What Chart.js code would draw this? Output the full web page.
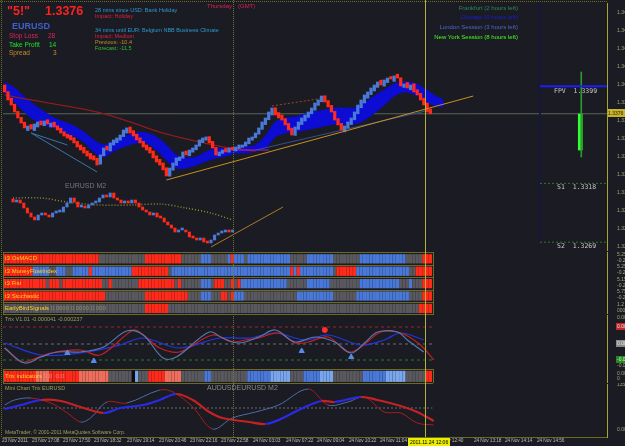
<!DOCTYPE html>
<html>
<head>
<meta charset="utf-8">
<title>EURUSD M2</title>
<script src="https://cdn.jsdelivr.net/npm/chart.js@4.4.1/dist/chart.umd.min.js"></script>
<style>
  html, body { margin: 0; padding: 0; background: #1b1b23; }
  #wrap { position: relative; width: 625px; height: 446px; overflow: hidden; background: #1b1b23; font-family: "Liberation Sans", sans-serif; }
  #wrap canvas { position: absolute; }
  .t { position: absolute; white-space: nowrap; line-height: 1; font-size: 5.5px; }
  .hl { position: absolute; height: 0; border-top: 1px solid #6b6b1f; }
  .vl { position: absolute; width: 0; border-left: 1px solid #6b6b1f; }
  .xl { position: absolute; top: 439px; white-space: nowrap; line-height: 1; font-size: 4.8px; letter-spacing: -0.1px; color: #b8b8b8; }
</style>
</head>
<body>
<div id="wrap">
  <canvas id="mainChart" width="625" height="251" style="left:0;top:0"></canvas>
  <canvas id="insetChart" width="290" height="62" style="left:8px;top:188px"></canvas>
  <canvas id="stripChart" width="625" height="62" style="left:0;top:252px"></canvas>
  <canvas id="trixChart" width="625" height="54" style="left:0;top:315px"></canvas>
  <canvas id="trixBarChart" width="625" height="14" style="left:0;top:369px"></canvas>
  <canvas id="miniChart" width="625" height="63" style="left:0;top:383px"></canvas>

  <!-- ramki -->
  <div class="hl" style="left:0;top:1px;width:607px;border-top:1px dotted #6e6e22"></div>
  <div class="vl" style="left:1px;top:0;height:437px;border-left:1px dotted #6e6e22"></div>
  <div class="vl" style="left:233px;top:0;height:437px;border-left:1px dotted #74742a"></div>
  <div class="hl" style="left:3px;top:252px;width:430px"></div>
  <div class="hl" style="left:3px;top:265px;width:430px"></div>
  <div class="hl" style="left:3px;top:277px;width:430px"></div>
  <div class="hl" style="left:3px;top:290px;width:430px"></div>
  <div class="hl" style="left:3px;top:302px;width:430px"></div>
  <div class="hl" style="left:3px;top:314px;width:430px"></div>
  <div class="vl" style="left:3px;top:252px;height:63px"></div>
  <div class="vl" style="left:433px;top:252px;height:63px"></div>
  <div class="hl" style="left:3px;top:369px;width:430px"></div>
  <div class="hl" style="left:3px;top:383px;width:430px"></div>
  <div class="vl" style="left:3px;top:369px;height:14px"></div>
  <div class="vl" style="left:433px;top:369px;height:14px"></div>
  <div class="vl" style="left:425px;top:0;height:437px;border-left:1px solid #b4b434"></div>

  <!-- info -->
  <div class="t" style="left:7px;top:5px;font-size:12.5px;font-weight:bold;color:#ff2020">"5!"</div>
  <div class="t" style="left:45px;top:5px;font-size:12.5px;font-weight:bold;color:#ff2020">1.3376</div>
  <div class="t" style="left:12px;top:22px;font-size:9px;font-weight:bold;color:#3f5fd0">EURUSD</div>
  <div class="t" style="left:9px;top:33px;font-size:6.5px;color:#e0245a">Stop Loss</div>
  <div class="t" style="left:48px;top:33px;font-size:6.5px;color:#e0245a">28</div>
  <div class="t" style="left:9px;top:42px;font-size:6.5px;color:#22e022">Take Profit</div>
  <div class="t" style="left:49px;top:42px;font-size:6.5px;color:#22e022">14</div>
  <div class="t" style="left:9px;top:50px;font-size:6.5px;color:#cc8a22">Spread</div>
  <div class="t" style="left:53px;top:50px;font-size:6.5px;color:#cc8a22">3</div>

  <div class="t" style="left:95px;top:8px;color:#2a9ad0">28 mins since USD: Bank Holiday</div>
  <div class="t" style="left:95px;top:14px;color:#e02040">Impact: Holiday</div>
  <div class="t" style="left:95px;top:28px;color:#2a9ad0">34 mins until EUR: Belgium NBB Business Climate</div>
  <div class="t" style="left:95px;top:34px;color:#e02040">Impact: Medium</div>
  <div class="t" style="left:95px;top:40px;color:#c89020">Previous: -10.4</div>
  <div class="t" style="left:95px;top:46px;color:#30c030">Forecast: -11.5</div>
  <div class="t" style="left:207px;top:3px;font-size:6px;color:#e0204a">Thursday</div>
  <div class="t" style="left:238px;top:3px;font-size:6px;color:#e0204a">(GMT)</div>

  <div class="t" style="right:107px;top:5px;font-size:6px;color:#2e8b57">Frankfurt (2 hours left)</div>
  <div class="t" style="right:107px;top:14px;font-size:6px;color:#1c1ce6">Chicago (0 hours left)</div>
  <div class="t" style="right:107px;top:24px;font-size:6px;color:#4a6ad0">London Session (3 hours left)</div>
  <div class="t" style="right:107px;top:34px;font-size:6px;color:#44ff22">New York Session (8 hours left)</div>

  <div class="t" style="left:65px;top:182px;font-size:7px;color:#777">EURUSD M2</div>

  <div class="t" style="left:554px;top:88px;font-family:'DejaVu Sans Mono',monospace;font-size:6.5px;color:#c8c8c8">FPV&nbsp; 1.3399</div>
  <div class="t" style="left:557px;top:184px;font-family:'DejaVu Sans Mono',monospace;font-size:6.5px;color:#c8c8c8">S1&nbsp; 1.3318</div>
  <div class="t" style="left:557px;top:243px;font-family:'DejaVu Sans Mono',monospace;font-size:6.5px;color:#c8c8c8">S2&nbsp; 1.3269</div>
  <div class="t" style="left:608px;top:109px;width:17px;height:8px;background:#c8b428;color:#222;font-size:5px;line-height:8px">1.3376</div>

  <div class="t" style="left:5px;top:255px;font-size:6px;color:#ffd21a">t3 OsMACD</div>
  <div class="t" style="left:5px;top:268px;font-size:6px;color:#ffd21a">t3 MoneyFlowIndex</div>
  <div class="t" style="left:5px;top:280px;font-size:6px;color:#ffd21a">t3 Fisi</div>
  <div class="t" style="left:5px;top:293px;font-size:6px;color:#ffd21a">t3 Stochastic</div>
  <div class="t" style="left:5px;top:305px;font-size:6px;color:#ffd21a">EarlyBirdSignals <span style="color:#8a8a6a">0.0000 0.0000 0.000</span></div>

  <div class="t" style="left:5px;top:317px;color:#a0a050">Trix V1.01 -0.000041 -0.000237</div>
  <div class="t" style="left:5px;top:373px;font-size:6px;color:#ffd21a">Trix indicators <span style="color:#f08a7a">0.0 &nbsp;0.0</span></div>
  <div class="t" style="left:5px;top:386px;color:#a0a050">Mini Chart Trix EURUSD</div>
  <div class="t" style="left:207px;top:384px;font-size:7px;color:#8a8a8a">AUDUSDEURUSD M2</div>
  <div class="t" style="left:5px;top:430px;font-size:5px;color:#a0a060">MetaTrader, © 2001-2011 MetaQuotes Software Corp.</div>
  <div id="xLabels"></div>
  <div class="t" style="left:408px;top:438px;height:8px;line-height:8px;padding:0 2px;background:#eded00;color:#000;font-size:5px">2011.11.24 12:06</div>
</div>

<script>
'use strict';

// --- DANE: świece głównego wykresu ---
const opens = [
  1.34000, 1.33945, 1.3389, 1.3384, 1.3378, 1.3373, 1.3369, 1.3362, 1.3367, 1.3362,
  1.3365, 1.3370, 1.3366, 1.3371, 1.3365, 1.3369, 1.3366, 1.3364, 1.3361, 1.3359,
  1.3358, 1.3356, 1.3353, 1.3350, 1.3348, 1.3345, 1.3343, 1.3341, 1.3339, 1.3334,
  1.3341, 1.3349, 1.3345, 1.3350, 1.3352, 1.3354, 1.3357, 1.3360, 1.3365, 1.3362,
  1.3359, 1.3356, 1.3353, 1.3350, 1.3348, 1.3345, 1.3341, 1.3338, 1.3335, 1.3331,
  1.3324, 1.3329, 1.3333, 1.3337, 1.3339, 1.3345, 1.3341, 1.3344, 1.3346, 1.3349,
  1.3352, 1.3354, 1.3357, 1.3353, 1.3348, 1.3341, 1.3343, 1.3347, 1.3344, 1.3348,
  1.3345, 1.3347, 1.3348, 1.3349, 1.3351, 1.3354, 1.3356, 1.3359, 1.3363, 1.3367,
  1.3371, 1.3375, 1.3381, 1.3377, 1.3375, 1.3372, 1.3368, 1.3364, 1.3358, 1.3363,
  1.3367, 1.3370, 1.3373, 1.3376, 1.3379, 1.3383, 1.3386, 1.3391, 1.3387, 1.3383,
  1.3378, 1.3372, 1.3368, 1.3361, 1.3364, 1.3367, 1.3371, 1.3376, 1.3381, 1.3385,
  1.3389, 1.3392, 1.3395, 1.3398, 1.3404, 1.3399, 1.3402, 1.3407, 1.3403, 1.3409,
  1.3406, 1.3398, 1.3402, 1.3396, 1.3401, 1.3396, 1.3393, 1.3389, 1.3385, 1.3380
];
const closes = [
  1.33942, 1.33875, 1.33833, 1.33775, 1.33725, 1.33683, 1.33642, 1.33658, 1.33633, 1.33675,
  1.33692, 1.33667, 1.33700, 1.33675, 1.33683, 1.33650, 1.33625, 1.33600, 1.33575, 1.33558,
  1.33542, 1.33517, 1.33483, 1.33458, 1.33433, 1.33408, 1.33383, 1.33375, 1.33333, 1.33417,
  1.33475, 1.33458, 1.33517, 1.33542, 1.33558, 1.33583, 1.33625, 1.33642, 1.33600, 1.33575,
  1.33542, 1.33517, 1.33483, 1.33458, 1.33433, 1.33392, 1.33358, 1.33333, 1.33292, 1.33242,
  1.33308, 1.33350, 1.33392, 1.33400, 1.33442, 1.33417, 1.33458, 1.33475, 1.33500, 1.33542,
  1.33558, 1.33567, 1.33517, 1.33475, 1.33417, 1.33442, 1.33458, 1.33442, 1.33475, 1.33458,
  1.33483, 1.33500, 1.33500, 1.33525, 1.33558, 1.33567, 1.33600, 1.33642, 1.33692, 1.33725,
  1.33775, 1.33808, 1.33750, 1.33725, 1.33708, 1.33667, 1.33625, 1.33583, 1.33650, 1.33692,
  1.33725, 1.33750, 1.33775, 1.33808, 1.33850, 1.33875, 1.33908, 1.33858, 1.33817, 1.33775,
  1.33708, 1.33667, 1.33625, 1.33658, 1.33692, 1.33725, 1.33775, 1.33833, 1.33875, 1.33917,
  1.33942, 1.33975, 1.34000, 1.34025, 1.34000, 1.34042, 1.34058, 1.34050, 1.34075, 1.34058,
  1.33992, 1.34008, 1.33975, 1.34000, 1.33942, 1.33917, 1.33875, 1.33833, 1.33775, 1.33760
];

// wstęga MA (niebieska)
const ribbonIdx = [0, 3, 6, 9, 12, 15, 18, 21, 24, 27, 30, 33, 36, 40, 43, 46, 49, 52, 55, 58, 61, 64, 67,
  70, 73, 76, 79, 82, 85, 88, 91, 94, 97, 100, 103, 106, 109, 112, 115, 118, 121, 124, 127, 130, 133];
const ribbonHi = [1.34025, 1.33975, 1.33900, 1.33833, 1.33775, 1.33725, 1.33692, 1.33658, 1.33608, 1.33542,
  1.33500, 1.33533, 1.33567, 1.33600, 1.33600, 1.33567, 1.33500, 1.33417, 1.33392, 1.33400, 1.33442, 1.33475,
  1.33467, 1.33483, 1.33483, 1.33500, 1.33575, 1.33692, 1.33725, 1.33733, 1.33758, 1.33775, 1.33792, 1.33808,
  1.33808, 1.33808, 1.33850, 1.33908, 1.33958, 1.34008, 1.34025, 1.34017, 1.33975, 1.33917, 1.33875];
const ribbonLo = [1.33933, 1.33858, 1.33775, 1.33708, 1.33667, 1.33642, 1.33608, 1.33575, 1.33525, 1.33442,
  1.33400, 1.33450, 1.33483, 1.33517, 1.33517, 1.33458, 1.33375, 1.33308, 1.33308, 1.33333, 1.33367, 1.33392,
  1.33408, 1.33433, 1.33433, 1.33450, 1.33475, 1.33567, 1.33600, 1.33608, 1.33625, 1.33642, 1.33658, 1.33675,
  1.33675, 1.33675, 1.33708, 1.33767, 1.33833, 1.33908, 1.33942, 1.33925, 1.33875, 1.33833, 1.33817];

// wolna MA (ciemnoczerwona)
const slowMaIdx = [0, 8, 17, 29, 38, 47, 59, 68, 76];
const slowMa = [1.33917, 1.33875, 1.33833, 1.33767, 1.33692, 1.33608, 1.33525, 1.33475, 1.33450];

// linie trendu
const orangeIdx = [49, 142];
const orangePx = [1.33208, 1.33908];
const steelIdx = [76, 129];
const steelPx = [1.33458, 1.33792];
const channelIdx = [81, 97];
const channelPx = [1.33825, 1.33892];
const fanAIdx = [8, 28];
const fanAPx = [1.33600, 1.33275];
const fanBIdx = [8, 19];
const fanBPx = [1.33600, 1.33500];
const purpleIdx = [69, 80];
const purplePx = [1.33458, 1.33458];

const lastPrice = 1.3376;
const pivotVals = [1.3399, 1.3318, 1.3269];   // FPV, S1, S2
const pivotFrom = 162.2;
const dayIdx = 174.4;
const dayBody = [1.33458, 1.33758];
const dayRange = [1.33400, 1.34108];
const priceTicks = [1.3460, 1.3445, 1.3430, 1.3415, 1.3400, 1.3385, 1.3370, 1.3355, 1.3340,
  1.3325, 1.3310, 1.3295, 1.3280, 1.3265];

// --- mini wykres EURUSD M2 ---
const insetFirstOpen = 1.33960;
const insetCloses = [
  1.33930, 1.33950, 1.33920, 1.33870, 1.33820, 1.33780, 1.33750, 1.33800, 1.33820, 1.33800,
  1.33780, 1.33820, 1.33830, 1.33830, 1.33880, 1.33920, 1.33970, 1.33930, 1.33880, 1.33880,
  1.33870, 1.33900, 1.33920, 1.33930, 1.33970, 1.34000, 1.33980, 1.34020, 1.33970, 1.33950,
  1.33920, 1.33930, 1.33920, 1.33950, 1.33920, 1.33880, 1.33850, 1.33830, 1.33800, 1.33820,
  1.33780, 1.33770, 1.33730, 1.33700, 1.33670, 1.33630, 1.33650, 1.33650, 1.33630, 1.33580,
  1.33570, 1.33550, 1.33570, 1.33530, 1.33520, 1.33550, 1.33600, 1.33620, 1.33630, 1.33650,
  1.33630, 1.33630
];
const insetMaIdx = [0, 8, 15, 24, 33, 41, 48, 55, 61];
const insetMa = [1.33970, 1.33970, 1.33930, 1.33900, 1.33900, 1.33910, 1.33870, 1.33820, 1.33750];
const insetTrendIdx = [55, 75];
const insetTrendPx = [1.33480, 1.33880];

// --- paski sygnałów (R czerwony, B niebieski, G szary, S łososiowy, L jasnoniebieski, K czarny) ---
const stripRows = [
  'R29 G14 R11 G6 B3 G5 B1 R1 B3 G1 B13 G5 B8 G8 B14 G5 R3',
  'R9 B5 G2 B3 G2 B5 R1 B12 R11 G1 B36 R1 B1 R1 B10 G1 R6 B16 G2 R5',
  'R13 G1 R3 G1 R12 G2 R1 G8 R11 G1 R1 G6 B3 G1 R3 G2 R1 G1 R1 B14 G6 B7 G9 B12 G3 B1 G3 R3',
  'R31 G12 R13 G4 B3 G3 R2 G1 R1 B3 G16 B11 G7 B16 G4 R3',
  'G43 R7 G76 R4'
];
const stripScale = [['5.25', '-0.25'], ['5.25', '-0.25'], ['5.15', '-0.25'], ['5.75', '-0.25'], ['1.2', '0000']];
const trixRow = 'R10 S4 R9 S9 G7 K1 L1 G3 R5 S5 G7 B2 G11 B7 L6 G4 B5 L4 G9 B7 L6 G6 R2';

// --- Trix ---
const trixFastIdx = [0, 6, 11, 16, 23, 30, 37, 42, 48, 52, 62, 66, 71, 77, 82, 88, 94, 100, 105, 109, 113, 119, 122, 127];
const trixFast = [-0.00004, -0.00019, -0.00013, -0.00008, -0.00008, -0.00003, 0.00013, 0.00009, -0.00014, -0.00013,
  0.00012, 0.00006, 0.00001, 0.00007, 0.00014, 0.00002, 0.00007, 0.00002, -0.00009, 0.00001, 0.00012, 0.00012, 0.00004, -0.00008];
const trixRedIdx = [0, 5, 8, 14, 23, 29, 39, 42, 47, 53, 63, 69, 73, 77, 83, 88, 92, 98, 104, 108, 114, 120, 126, 130];
const trixRed = [-0.00004, -0.00018, -0.00016, -0.00009, -0.00006, -0.00011, 0.00014, 0.00009, -0.00004, -0.00008,
  0.00009, 0.00002, 0.00004, 0.00006, 0.00011, 0.00001, 0.00002, 0.00007, -0.00008, -0.00003, 0.00012, 0.00011, -0.00001, -0.00016];
const trixSlowIdx = [0, 11, 23, 35, 42, 53, 65, 74, 82, 91, 98, 108, 115, 120, 127];
const trixSlow = [0.00001, -0.00011, -0.00009, -0.00001, 0.00006, -0.00004, 0.00006, 0.00006, 0.00011, 0.00004,
  0.00009, -0.00001, 0.00004, 0.00011, 0.00004];
const trixLevels = [0.00017, 0, -0.00016];
const arrowIdx = [19, 27, 90, 105];
const arrowVal = [-0.00009, -0.00017, -0.00007, -0.00013];
const dotIdx = [97];
const dotVal = [0.00014];
const trixTicks = [0.00026, 0.00017, 0, -0.00016, -0.00022];

// --- Mini Chart Trix ---
const miniThickIdx = [0, 5, 11, 17, 23, 30, 35, 42, 47, 52, 57, 62, 66, 74, 79, 83, 91, 96, 100, 108, 113, 120, 125, 130];
const miniThick = [63, 75, 90, 87, 69, 51, 66, 75, 90, 108, 90, 54, 36, 24, 18, 30, 69, 87, 84, 99, 90, 72, 54, 27];
const miniThinIdx = [0, 3, 8, 14, 19, 23, 26, 31, 37, 47, 51, 57, 63, 69, 76, 83, 92, 98, 104, 109, 115, 120, 125, 130];
const miniThin = [75, 90, 96, 81, 51, 24, 36, 84, 81, 120, 114, 69, 3, 36, 54, 75, 123, 75, 84, 99, 54, 51, 21, 15];
const miniLevel = 66;

// --- oś czasu ---
const xTickIdx = [-0.5, 8.5, 18, 27.5, 37.5, 47, 56.5, 66, 75.5, 85.5, 95, 104.5, 114, 131, 142.5, 152, 161.5];
const xTickLabels = ['23 Nov 2011', '23 Nov 17:08', '23 Nov 17:50', '23 Nov 18:32', '23 Nov 19:14', '23 Nov 20:46',
  '23 Nov 22:16', '23 Nov 22:58', '24 Nov 03:03', '24 Nov 07:22', '24 Nov 09:04', '24 Nov 10:22', '24 Nov 11:04',
  '24 Nov 12:40', '24 Nov 13:18', '24 Nov 14:14', '24 Nov 14:56'];

// --- STYL ---
const AXIS = '#a9a72a';
const TICK_TXT = '#a6a67a';
const UP = '#4a7ad8';
const DOWN = '#ff2a1a';
const CELL = { R: '#ff2a1a', B: '#4a78d8', G: '#58585e', S: '#ef6e5e', L: '#7aa6ee', K: '#0c0c0c' };

Chart.defaults.font.family = '"Liberation Sans", sans-serif';
Chart.defaults.animation = false;
Chart.defaults.events = [];

const noUi = { legend: { display: false }, tooltip: { enabled: false } };
const xy = (xs, ys) => xs.map((x, k) => ({ x: x, y: ys[k] }));
const pad = (left, top, bottom) => ({ autoPadding: false, padding: { left: left, top: top, right: 0, bottom: bottom || 0 } });

function lineDs(data, color, extra) {
    return Object.assign({
        type: 'line', data: data, borderColor: color, backgroundColor: color,
        borderWidth: 1, pointRadius: 0, fill: false, order: 2
    }, extra || {});
}

function expandRuns(str) {
    const out = [];
    str.split(' ').forEach(tok => {
        const n = parseInt(tok.slice(1), 10);
        for (let k = 0; k < n; k++) out.push(tok[0]);
    });
    return out;
}

// oś po prawej: stała szerokość, bez dodatkowego marginesu na etykiety
function rightAxis(min, max, ticks, fmt, extra) {
    return Object.assign({
        position: 'right', min: min, max: max,
        afterFit: s => { s.width = 18; s.paddingTop = 0; s.paddingBottom = 0; },
        afterBuildTicks: s => { s.ticks = ticks.map(v => ({ value: v })); },
        grid: { display: false },
        border: { display: true, color: AXIS, width: 1 },
        ticks: { color: TICK_TXT, font: { size: 5 }, padding: 2, autoSkip: false, callback: fmt }
    }, extra || {});
}

const xMain = { type: 'linear', min: -0.5, max: 182.5, display: false, offset: false };

// --- GŁÓWNY WYKRES ---
const candles = closes.map((c, i) => ({ x: i, y: [opens[i], c] }));
const candleColors = candles.map(d => (d.y[1] >= d.y[0] ? UP : DOWN));

const pivotSets = pivotVals.map((v, k) => lineDs([{ x: pivotFrom, y: v }, { x: 182.5, y: v }],
    k === 0 ? '#1c1cff' : '#2a7a2a',
    k === 0 ? { borderWidth: 2, order: 0 } : { borderDash: [2, 2], order: 0 }));

new Chart(document.getElementById('mainChart'), {
    type: 'bar',
    data: {
        datasets: [
            lineDs([{ x: -0.5, y: lastPrice }, { x: 182.5, y: lastPrice }], '#59665a', { order: 9 }),
            lineDs(xy(ribbonIdx, ribbonHi), '#0c0cd2', { fill: '+1', backgroundColor: '#0c0cd2', tension: 0.3, order: 7 }),
            lineDs(xy(ribbonIdx, ribbonLo), '#0c0cd2', { tension: 0.3, order: 7 }),
            lineDs(xy(slowMaIdx, slowMa), '#8c1c1c', { borderWidth: 1.3, tension: 0.4, order: 6 }),
            lineDs(xy(fanAIdx, fanAPx), '#3a78a8', { order: 5 }),
            lineDs(xy(fanBIdx, fanBPx), '#3a78a8', { order: 5 }),
            lineDs(xy(purpleIdx, purplePx), '#9a22c4', { order: 5 }),
            lineDs(xy(channelIdx, channelPx), '#9a4a26', { borderDash: [2, 2], order: 5 }),
            lineDs(xy(steelIdx, steelPx), '#34508c', { order: 5 }),
            {
                type: 'bar', data: candles, backgroundColor: candleColors,
                barThickness: 2.6, minBarLength: 1.5, grouped: false, order: 1
            },
            lineDs(xy(orangeIdx, orangePx), '#c8901e', { order: 0 }),
            lineDs([{ x: pivotFrom, y: 1.3468 }, { x: pivotFrom, y: 1.3271 }], '#17173e', { borderWidth: 2, order: 3 }),
            ...pivotSets,
            { type: 'bar', data: [{ x: dayIdx + 0.3, y: dayRange }], backgroundColor: '#2a9a2a', barThickness: 1, grouped: false, order: 0 },
            { type: 'bar', data: [{ x: dayIdx, y: dayBody }], backgroundColor: '#33ff33', barThickness: 4, grouped: false, order: 0 }
        ]
    },
    options: {
        responsive: false,
        layout: pad(3, 3, 1),
        plugins: noUi,
        scales: {
            x: xMain,
            y: rightAxis(1.32625, 1.34683, priceTicks, v => v.toFixed(4))
        }
    }
});

// --- WSTAWKA EURUSD M2 ---
const insetCandles = insetCloses.map((c, i) => ({ x: i, y: [i ? insetCloses[i - 1] : insetFirstOpen, c] }));
new Chart(document.getElementById('insetChart'), {
    type: 'bar',
    data: {
        datasets: [
            lineDs(xy(insetMaIdx, insetMa), '#8e8e2a', { borderDash: [1, 2], borderWidth: 1.5, tension: 0.3 }),
            {
                type: 'bar', data: insetCandles,
                backgroundColor: insetCandles.map(d => (d.y[1] >= d.y[0] ? UP : DOWN)),
                barThickness: 2.4, minBarLength: 2, grouped: false, order: 1
            },
            lineDs(xy(insetTrendIdx, insetTrendPx), '#b07a28', { order: 0 })
        ]
    },
    options: {
        responsive: false,
        layout: pad(0, 0),
        plugins: noUi,
        scales: {
            x: { type: 'linear', min: -1.39, max: 79.17, display: false, offset: false },
            y: { min: 1.3345, max: 1.3407, display: false }
        }
    }
});

// --- PASKI SYGNAŁÓW ---
const stripSets = stripRows.map((runs, r) => {
    const states = expandRuns(runs);
    return {
        type: 'bar',
        data: states.map((s, i) => ({ x: i, y: [r + 0.2, r + 0.9] })),
        backgroundColor: states.map(s => CELL[s]),
        barThickness: 2.6, grouped: false
    };
});

new Chart(document.getElementById('stripChart'), {
    type: 'bar',
    data: { datasets: stripSets },
    options: {
        responsive: false,
        layout: pad(3, 0),
        plugins: noUi,
        scales: {
            x: xMain,
            y: rightAxis(0, 5, [0.45, 1.45, 2.45, 3.45, 4.45], (v, i) => stripScale[i], { reverse: true })
        }
    }
});

// --- TRIX ---
const levelColors = ['#a02424', '#6e6e6e', '#1f7f1f'];
const tickBg = ['rgba(0,0,0,0)', '#c0282a', '#8a8a8a', '#1f8a1f', 'rgba(0,0,0,0)'];
const trixAxis = rightAxis(-0.00025, 0.00029, trixTicks, v => v.toFixed(5));
trixAxis.ticks = Object.assign({}, trixAxis.ticks, {
    showLabelBackdrop: true,
    backdropPadding: { top: 1, bottom: 0, left: 1, right: 2 },
    backdropColor: c => tickBg[c.index],
    color: c => (c.index === 0 || c.index === 4 ? TICK_TXT : '#e6e6e6')
});

new Chart(document.getElementById('trixChart'), {
    type: 'line',
    data: {
        datasets: [
            ...trixLevels.map((v, k) => lineDs([{ x: -0.5, y: v }, { x: 129.6, y: v }], levelColors[k], { borderDash: [3, 3], order: 5 })),
            lineDs(xy(trixFastIdx, trixFast), '#5878ae', { tension: 0.35, borderWidth: 1.2 }),
            lineDs(xy(trixRedIdx, trixRed), '#c42020', { tension: 0.35, borderWidth: 1.2 }),
            lineDs(xy(trixSlowIdx, trixSlow), '#2236e0', { tension: 0.35, borderWidth: 1.2 }),
            {
                type: 'scatter', data: xy(arrowIdx, arrowVal), pointStyle: 'triangle', pointRadius: 3,
                backgroundColor: '#5a8ae8', borderColor: '#5a8ae8', order: 0
            },
            {
                type: 'scatter', data: xy(dotIdx, dotVal), pointRadius: 2.5,
                backgroundColor: '#ff3030', borderColor: '#ff3030', order: 0
            }
        ]
    },
    options: {
        responsive: false,
        layout: pad(3, 0),
        plugins: noUi,
        scales: { x: xMain, y: trixAxis }
    }
});

// --- PASEK TRIX ---
const trixStates = expandRuns(trixRow);
new Chart(document.getElementById('trixBarChart'), {
    type: 'bar',
    data: {
        datasets: [{
            type: 'bar',
            data: trixStates.map((s, i) => ({ x: i, y: [0.15, 0.9] })),
            backgroundColor: trixStates.map(s => CELL[s]),
            barThickness: 2.6, grouped: false
        }]
    },
    options: {
        responsive: false,
        layout: pad(3, 0),
        plugins: noUi,
        scales: {
            x: xMain,
            y: rightAxis(0, 1, [0.3, 0.72], (v, i) => ['0.0000', '0'][i], { reverse: true })
        }
    }
});

// --- MINI CHART TRIX ---
const slopeColor = (up, down) => c => (c.p1.parsed.y >= c.p0.parsed.y ? up : down);

const miniChart = new Chart(document.getElementById('miniChart'), {
    type: 'line',
    data: {
        datasets: [
            lineDs([{ x: -0.5, y: miniLevel }, { x: 129.6, y: miniLevel }], '#6a6a6a', { borderDash: [2, 2], order: 5 }),
            lineDs(xy(miniThinIdx, miniThin), '#4e6ea6', {
                tension: 0.35, borderWidth: 1, segment: { borderColor: slopeColor('#4e6ea6', '#a81e1e') }
            }),
            lineDs(xy(miniThickIdx, miniThick), '#2a2ae8', {
                tension: 0.35, borderWidth: 2.2, order: 1, segment: { borderColor: slopeColor('#2a2ae8', '#c42222') }
            })
        ]
    },
    options: {
        responsive: false,
        layout: pad(3, 1),
        plugins: noUi,
        scales: {
            x: {
                type: 'linear', min: -0.5, max: 182.5, offset: false, position: 'bottom',
                afterFit: s => { s.height = 9; s.paddingLeft = 0; s.paddingRight = 0; },
                grid: { display: false },
                border: { display: true, color: '#6a6a20' },
                ticks: { display: false }
            },
            y: rightAxis(-21, 138, [135, 0], (v, i) => ['135', '0.00'][i])
        }
    }
});

// etykiety czasu ustawione według skali x wykresu
const xScale = miniChart.scales.x;
document.getElementById('xLabels').innerHTML = xTickIdx.map((v, k) =>
    '<div class="xl" style="left:' + Math.round(xScale.getPixelForValue(v) - 1) + 'px">' + xTickLabels[k] + '</div>'
).join('');
</script>
</body>
</html>
